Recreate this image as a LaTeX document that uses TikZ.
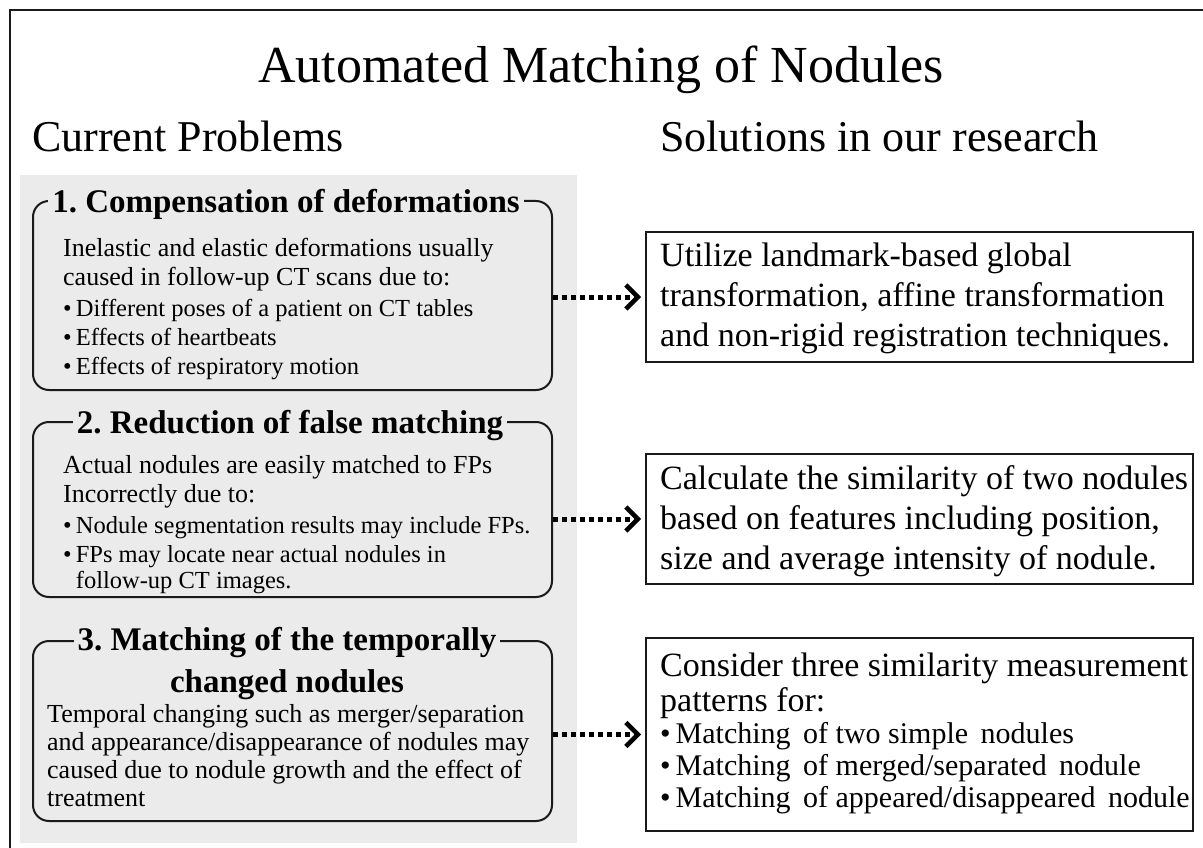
\documentclass[tikz,border=0pt]{standalone}
\usepackage{fontspec}
\setmainfont{Liberation Serif}
\usetikzlibrary{arrows.meta}
\definecolor{panel}{HTML}{EBEBEB}
\definecolor{ink}{HTML}{1A1A1A}
\frenchspacing
% one bulleted line of a problem box, set a little smaller than the lead text
\newcommand\bulletline[1]{{\fontsize{24.5}{29}\selectfont •\,#1}}
\newcommand\bulletcont[1]{{\fontsize{24.5}{29}\selectfont \phantom{•\,}#1}}
\begin{document}
\begin{tikzpicture}[x=1pt,y=-1pt,
  frame/.style={draw=ink, line width=2.4pt},
  probbox/.style={draw=ink, line width=2pt, rounded corners=16pt, anchor=north west, inner sep=0pt},
  probtitle/.style={fill=panel, inner xsep=4pt, inner ysep=0pt, align=center,
    font=\fontsize{33}{42}\selectfont\bfseries},
  probtext/.style={anchor=north west, align=left, inner sep=0pt, font=\fontsize{26}{29}\selectfont},
  solbox/.style={draw=ink, line width=2pt, fill=white, anchor=north west, inner sep=0pt,
    minimum width=547pt},
  soltext/.style={anchor=north west, align=left, inner sep=0pt, font=\fontsize{34}{40}\selectfont},
  link/.style={line width=5pt, dash pattern=on 5pt off 4pt, shorten >=4pt,
    -{Straight Barb[length=12pt,width=24pt,line width=4.5pt]}}
]
% page and outer frame
\fill[white] (0,0) rectangle (1203,848);
\useasboundingbox (0,0) rectangle (1203,848);
\draw[frame] (10,848) -- (10,10) -- (1203,10);

% headings
\node[anchor=base, font=\fontsize{52}{60}\selectfont] (title) at (601,83) {Automated Matching of Nodules};
\node[anchor=base west, inner sep=0pt, font=\fontsize{44}{50}\selectfont] (cur) at (32,152) {Current Problems};
\node[anchor=base west, inner sep=0pt, font=\fontsize{44}{50}\selectfont] (sol) at (660,152) {Solutions in our research};

% grey panel behind the problem boxes
\fill[panel] (20,175) rectangle (577,843);

% problem boxes
\node[probbox, minimum width=519pt, minimum height=189pt] (p1) at (32,200) {};
\node[probtitle, anchor=base] (t1) at (286,212) {1. Compensation of deformations};
\node[probtext] (b1) at (63,238) {Inelastic and elastic deformations usually\\
  caused in follow-up CT scans due to:\\[2pt]
  \bulletline{Different poses of a patient on CT tables}\\
  \bulletline{Effects of heartbeats}\\
  \bulletline{Effects of respiratory motion}};

\node[probbox, minimum width=519pt, minimum height=175pt] (p2) at (32,421) {};
\node[probtitle, anchor=base] (t2) at (290,433) {2. Reduction of false matching};
\node[probtext] (b2) at (63,455) {Actual nodules are easily matched to FPs\\
  Incorrectly due to:\\[2pt]
  \bulletline{Nodule segmentation results may include FPs.}\\
  \bulletline{FPs may locate near actual nodules in}\\[-3pt]
  \bulletcont{follow-up CT images.}};

\node[probbox, minimum width=519pt, minimum height=180pt] (p3) at (32,640) {};
\node[probtitle, anchor=base] (t3) at (287,692) {3. Matching of the temporally\\ changed nodules};
\node[probtext, font=\fontsize{26}{28}\selectfont] (b3) at (47,704) {Temporal changing such as merger/separation\\
  and appearance/disappearance of nodules may\\
  caused due to nodule growth and the effect of\\
  treatment};

% solution boxes
\node[solbox, minimum height=130pt] (s1) at (645,231) {};
\node[soltext] (x1) at (660,243) {Utilize landmark-based global\\
  transformation, affine transformation\\
  and non-rigid registration techniques.};

\node[solbox, minimum height=130pt] (s2) at (645,453) {};
\node[soltext] (x2) at (660,465) {Calculate the similarity of two nodules\\
  based on features including position,\\
  size and average intensity of nodule.};

\node[solbox, minimum height=193pt] (s3) at (645,637) {};
\node[soltext, font=\fontsize{34}{35}\selectfont] (x3) at (660,653) {Consider three similarity measurement\\
  patterns for:};
\node[soltext, font=\fontsize{30}{32}\selectfont] (x3b) at (660,722) {•\,Matching\, of two simple\, nodules\\
  •\,Matching\, of merged/separated\, nodule\\
  •\,Matching\, of appeared/disappeared\, nodule};

% connectors
\draw[link] (s1.west -| p1.east) -- (s1.west);
\draw[link] (s2.west -| p2.east) -- (s2.west);
\draw[link] (s3.west -| p3.east) -- (s3.west);
\end{tikzpicture}
\end{document}
